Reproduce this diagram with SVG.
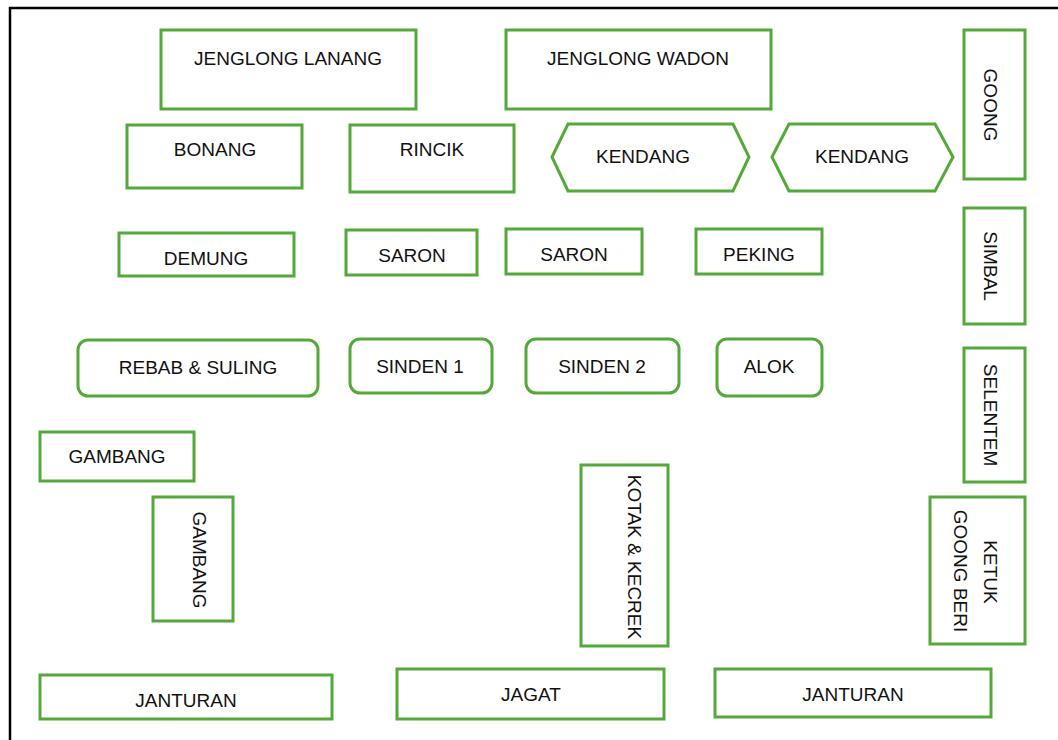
<svg xmlns="http://www.w3.org/2000/svg" width="1058" height="740" viewBox="0 0 1058 740">
<style>
.b{fill:#fff;stroke:#55a83a;stroke-width:3}
.t{font-family:"Liberation Sans",Arial,sans-serif;font-size:19px;fill:#111;text-anchor:middle;dominant-baseline:central}
</style>
<rect width="1058" height="740" fill="#fff"/>
<path d="M10,740 V8 H1058" fill="none" stroke="#000" stroke-width="2.5"/>
<g id="jenglong-lanang"><rect class="b" x="161" y="30" width="255" height="79"/><text class="t" x="288" y="58">JENGLONG LANANG</text></g>
<g id="jenglong-wadon"><rect class="b" x="506" y="30" width="265" height="79"/><text class="t" x="638" y="58">JENGLONG WADON</text></g>
<g id="goong"><rect class="b" x="964" y="30" width="61" height="149"/><text class="t" transform="translate(990,105) rotate(90)">GOONG</text></g>
<g id="bonang"><rect class="b" x="127" y="125" width="175" height="63"/><text class="t" x="215" y="149">BONANG</text></g>
<g id="rincik"><rect class="b" x="350" y="125" width="164" height="67"/><text class="t" x="432" y="149">RINCIK</text></g>
<g id="kendang-1"><polygon class="b" points="552,157 568,124 733,124 749,157 733,191 568,191"/><text class="t" x="643" y="156">KENDANG</text></g>
<g id="kendang-2"><polygon class="b" points="772,157 789,124 935,124 953,157 935,191 789,191"/><text class="t" x="862" y="156">KENDANG</text></g>
<g id="demung"><rect class="b" x="119" y="233" width="175" height="43"/><text class="t" x="206" y="258">DEMUNG</text></g>
<g id="saron-1"><rect class="b" x="346" y="230" width="131" height="45"/><text class="t" x="412" y="255">SARON</text></g>
<g id="saron-2"><rect class="b" x="506" y="229" width="136" height="45"/><text class="t" x="574" y="254">SARON</text></g>
<g id="peking"><rect class="b" x="696" y="229" width="126" height="45"/><text class="t" x="759" y="254">PEKING</text></g>
<g id="simbal"><rect class="b" x="964" y="208" width="61" height="116"/><text class="t" transform="translate(990,266) rotate(90)">SIMBAL</text></g>
<g id="rebab-suling"><rect class="b" x="78" y="340" width="240" height="56" rx="10"/><text class="t" x="198" y="367">REBAB &amp; SULING</text></g>
<g id="sinden-1"><rect class="b" x="350" y="339" width="142" height="54" rx="10"/><text class="t" x="420" y="366">SINDEN 1</text></g>
<g id="sinden-2"><rect class="b" x="526" y="339" width="153" height="54" rx="10"/><text class="t" x="602" y="366">SINDEN 2</text></g>
<g id="alok"><rect class="b" x="717" y="339" width="105" height="57" rx="10"/><text class="t" x="769" y="366">ALOK</text></g>
<g id="selentem"><rect class="b" x="964" y="348" width="61" height="134"/><text class="t" transform="translate(990,415) rotate(90)">SELENTEM</text></g>
<g id="gambang-1"><rect class="b" x="40" y="432" width="154" height="49"/><text class="t" x="117" y="456">GAMBANG</text></g>
<g id="gambang-2"><rect class="b" x="153" y="497" width="80" height="124"/><text class="t" transform="translate(199,560) rotate(90)">GAMBANG</text></g>
<g id="kotak-kecrek"><rect class="b" x="581" y="465" width="87" height="181"/><text class="t" transform="translate(634,557) rotate(90)">KOTAK &amp; KECREK</text></g>
<g id="ketuk-goong-beri"><rect class="b" x="930" y="497" width="95" height="147"/><text class="t" transform="translate(990,572) rotate(90)">KETUK</text><text class="t" transform="translate(960,571) rotate(90)">GOONG BERI</text></g>
<g id="janturan-1"><rect class="b" x="40" y="675" width="292" height="44"/><text class="t" x="186" y="700">JANTURAN</text></g>
<g id="jagat"><rect class="b" x="397" y="669" width="267" height="50"/><text class="t" x="531" y="694">JAGAT</text></g>
<g id="janturan-2"><rect class="b" x="715" y="669" width="276" height="48"/><text class="t" x="853" y="694">JANTURAN</text></g>
<g id="connectors"></g>
</svg>
